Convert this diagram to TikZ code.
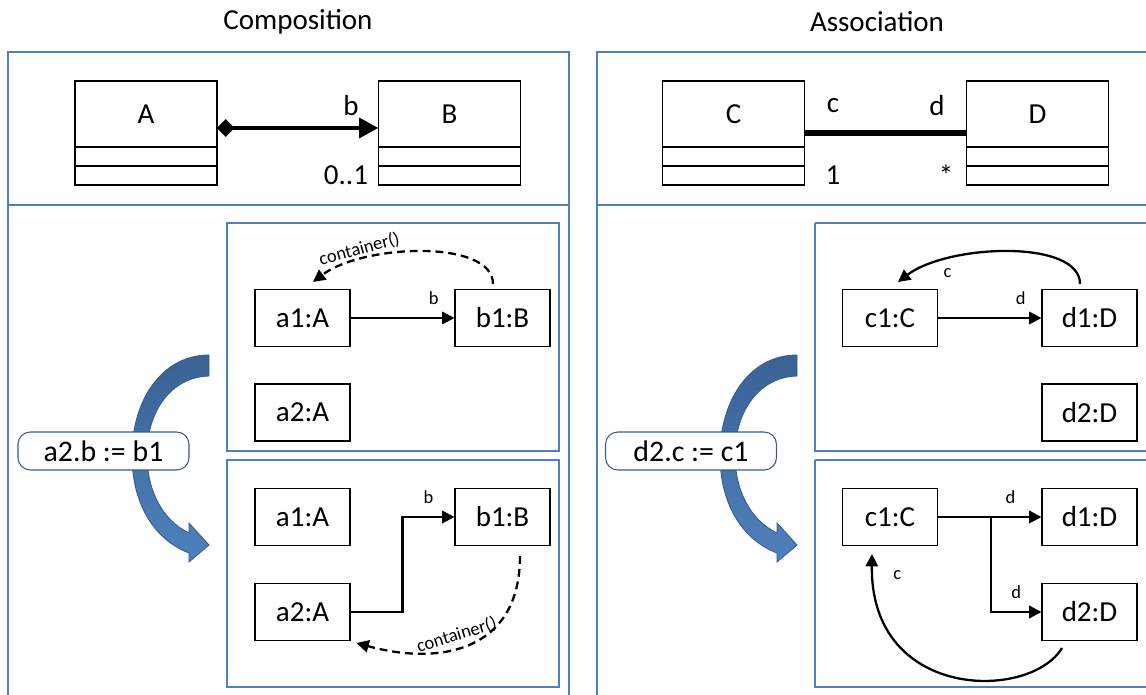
\documentclass[tikz,border=0pt]{standalone}
\usepackage{fontspec}
\setmainfont{Carlito}
\usetikzlibrary{arrows.meta, positioning}
\definecolor{frameblue}{RGB}{79,129,189}
\definecolor{darkblue}{RGB}{56,93,138}
\definecolor{arrowtop}{RGB}{58,98,148}

\begin{document}
\begin{tikzpicture}[x=0.02cm, y=-0.02cm,
    panel/.style={draw=frameblue, line width=0.6pt},
    cls/.style={draw, line width=0.6pt, outer sep=0pt, minimum width=2.84cm, minimum height=1.32cm, inner sep=0pt, font=\fontsize{16.5}{19}\selectfont},
    compart/.style={draw, line width=0.6pt, outer sep=0pt, minimum width=2.84cm, minimum height=0.38cm, inner sep=0pt},
    obj/.style={draw, line width=0.6pt, minimum width=1.9cm, minimum height=1.14cm, inner sep=0pt, font=\fontsize{16.5}{19}\selectfont},
    bigtext/.style={font=\fontsize{16.5}{19}\selectfont},
    lbl/.style={font=\fontsize{10.5}{12}\selectfont, inner sep=1pt},
    link/.style={line width=1.3pt, -{Triangle[length=7pt, width=7pt]}},
    backlink/.style={line width=1.3pt, dash pattern=on 4.5pt off 2.8pt, -{Triangle[length=7pt, width=7pt]}},
    cmd/.style={draw=darkblue, fill=white, rounded corners=7pt, line width=0.6pt, minimum width=3.42cm, minimum height=0.76cm, font=\fontsize{17}{19}\selectfont},
    bentarrow/.style={top color=arrowtop, bottom color=frameblue, draw=darkblue, line width=0.5pt}
    ]

    \useasboundingbox (0,0) rectangle (1146,695);

    % Titles
    \node[bigtext] (titleComp) at (298,22) {Composition};
    \node[bigtext] (titleAssoc) at (877,22) {Association};

    % Draw the frames
    \draw[panel] (8,695) -- (8,52) -- (569,52) -- (569,695);
    \draw[panel] (8,205) -- (569,205);
    \draw[panel] (597,695) -- (597,52) -- (1150,52);
    \draw[panel] (597,205) -- (1150,205);
    \draw[panel] (227,223) rectangle (559,451);
    \draw[panel] (227,460) rectangle (559,687);
    \draw[panel] (815,223) -- (1150,223) (815,223) -- (815,451) -- (1150,451);
    \draw[panel] (815,460) -- (1150,460) (815,460) -- (815,687) -- (1150,687);

    % Class diagram: composition
    \node[cls] (clsA) at (146,114) {A};
    \node[compart, below=0pt of clsA] (attrA) {};
    \node[compart, below=0pt of attrA] (opA) {};
    \node[cls] (clsB) at (449.5,114) {B};
    \node[compart, below=0pt of clsB] (attrB) {};
    \node[compart, below=0pt of attrB] (opB) {};
    \draw[line width=2.8pt, {Diamond[length=10pt, width=10pt]}-{Triangle[length=11pt, width=11pt]}]
        ([yshift=-0.28cm]clsA.east) -- ([yshift=-0.28cm]clsB.west);
    \node[bigtext] (roleB) at (351,106) {b};
    \node[bigtext] (multB) at (346,175) {0..1};

    % Class diagram: association
    \node[cls] (clsC) at (733.5,114) {C};
    \node[compart, below=0pt of clsC] (attrC) {};
    \node[compart, below=0pt of attrC] (opC) {};
    \node[cls] (clsD) at (1037.5,114) {D};
    \node[compart, below=0pt of clsD] (attrD) {};
    \node[compart, below=0pt of attrD] (opD) {};
    \draw[line width=3.4pt] ([yshift=-0.38cm]clsC.east) -- ([yshift=-0.38cm]clsD.west);
    \node[bigtext] (roleC) at (833,106) {c};
    \node[bigtext] (roleD) at (937,106) {d};
    \node[bigtext] (multC) at (833,175) {1};
    \node[bigtext] (multD) at (946,175) {*};

    % Composition, before
    \node[obj] (a1t) at (302.5,318) {a1:A};
    \node[obj] (b1t) at (502.5,318) {b1:B};
    \node[obj] (a2t) at (302.5,412.5) {a2:A};
    \draw[link] (a1t) -- (b1t) node[lbl, pos=0.8, above=6pt] {b};
    \draw[backlink] ([xshift=-0.19cm, yshift=0.1cm]b1t.north) .. controls +(0,-45) and +(50,-38) .. ([xshift=0.21cm, yshift=0.14cm]a1t.north)
        node[lbl, pos=0.75, above, sloped] {container()};

    % Composition, after
    \node[obj] (a1b) at (302.5,517) {a1:A};
    \node[obj] (b1b) at (502.5,517) {b1:B};
    \node[obj] (a2b) at (302.5,612) {a2:A};
    \draw[link] (a2b.east) -- ++(52,0) |- node[lbl, pos=0.75, above=6pt] {b} (b1b.west);
    \draw[backlink] ([xshift=0.35cm, yshift=-0.2cm]b1b.south) .. controls +(0,95) and +(84,23) .. ([xshift=0.12cm, yshift=-0.04cm]a2b.south east)
        node[lbl, pos=0.55, above=1pt, sloped] {container()};

    % Association, before
    \node[obj] (c1t) at (890,318) {c1:C};
    \node[obj] (d1t) at (1089.5,318) {d1:D};
    \node[obj] (d2t) at (1089.5,412.5) {d2:D};
    \draw[link] (c1t) -- (d1t) node[lbl, pos=0.8, above=6pt] {d};
    \draw[link] ([xshift=-0.19cm, yshift=0.1cm]d1t.north) .. controls +(0,-45) and +(50,-38) .. ([xshift=0.16cm, yshift=0.14cm]c1t.north)
        node[lbl, pos=0.75, below=3pt] {c};

    % Association, after
    \node[obj] (c1b) at (890,517) {c1:C};
    \node[obj] (d1b) at (1089.5,517) {d1:D};
    \node[obj] (d2b) at (1089.5,612) {d2:D};
    \coordinate (fork) at ([xshift=1.06cm]c1b.east);
    \draw[link] (c1b) -- (d1b) node[lbl, pos=0.7, above=6pt] {d};
    \draw[link] (fork) |- node[lbl, pos=0.75, above=6pt] {d} (d2b.west);
    \draw[link] ([xshift=-0.55cm, yshift=-0.14cm]d2b.south) .. controls +(-32,53) and +(-2,147) .. ([xshift=-0.36cm, yshift=-0.16cm]c1b.south)
        node[lbl, pos=0.95, right=10pt] {c};

    % Blue bent arrows
    \shade[bentarrow] (209,355) .. controls (162,355) and (132,400) .. (132,455) .. controls (132,505) and (155,540) .. (189,553)
        -- (189,562) -- (209,545) -- (189,523) -- (189,533)
        .. controls (162,520) and (147,490) .. (147,455) .. controls (147,410) and (172,377) .. (209,376) -- cycle;
    \begin{scope}[shift={(588,0)}]
    \shade[bentarrow] (209,355) .. controls (162,355) and (132,400) .. (132,455) .. controls (132,505) and (155,540) .. (189,553)
        -- (189,562) -- (209,545) -- (189,523) -- (189,533)
        .. controls (162,520) and (147,490) .. (147,455) .. controls (147,410) and (172,377) .. (209,376) -- cycle;
    \end{scope}

    % Operations
    \node[cmd] (opComp) at (103.5,451) {a2.b := b1};
    \node[cmd] (opAssoc) at (691,451) {d2.c := c1};

\end{tikzpicture}
\end{document}
